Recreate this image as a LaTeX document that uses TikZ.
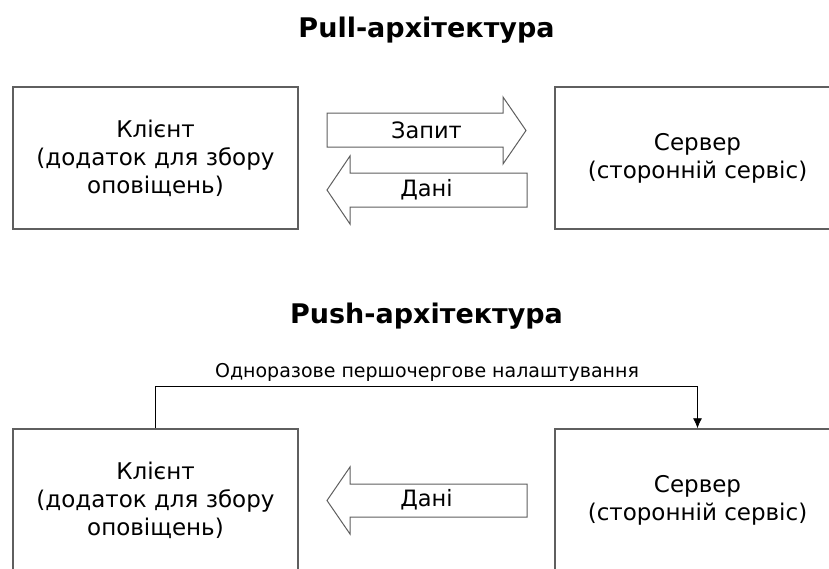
\documentclass[tikz,border=0pt]{standalone}
\usepackage{fontspec}
\setmainfont{DejaVu Sans}
\usetikzlibrary{arrows.meta, positioning}
\definecolor{rahmen}{RGB}{95,95,95}
\tikzset{>=Latex}

\begin{document}
\begin{tikzpicture}[x=1pt, y=-1pt, line width=1pt,
    kasten/.style={draw=rahmen, line width=1.4pt, minimum width=285pt,
      minimum height=142pt, inner sep=0pt, align=center,
      font=\fontsize{23}{28}\selectfont},
    titel/.style={font=\bfseries\fontsize{27}{31}\selectfont},
    pfeil/.style={draw=rahmen, line width=1pt, fill=white},
    beschr/.style={font=\fontsize{22.5}{26}\selectfont}]

    \useasboundingbox (0,0) rectangle (829,568);
    \clip (0,0) rectangle (829,568);

    % Pull oben
    \node[titel] (titelpull) at (426.5,30) {Pull-архітектура};
    \node[kasten] (klient1) at (155.5,158) {Клієнт\\(додаток для збору\\оповіщень)};
    \node[kasten] (server1) at (697.5,158) {Сервер\\(сторонній сервіс)};

    % Blockpfeile zwischen den Kästen
    \draw[pfeil] (327,113) -- (503,113) -- (503,97) -- (526,130.5)
        -- (503,164) -- (503,147) -- (327,147) -- cycle;
    \node[beschr] (zapit) at (426.5,130) {Запит};
    \draw[pfeil] (527,173) -- (350,173) -- (350,156) -- (327,190)
        -- (350,224) -- (350,207) -- (527,207) -- cycle;
    \node[beschr] (dani1) at (426.5,190) {Дані};

    % Push unten
    \node[titel] (titelpush) at (426.5,316) {Push-архітектура};
    \node[kasten] (klient2) at (155.5,500) {Клієнт\\(додаток для збору\\оповіщень)};
    \node[kasten] (server2) at (697.5,500) {Сервер\\(сторонній сервіс)};

    \draw[pfeil] (527,484) -- (350,484) -- (350,467) -- (327,500.5)
        -- (350,534) -- (350,517) -- (527,517) -- cycle;
    \node[beschr] (dani2) at (426.5,500) {Дані};

    % einmalige Einrichtung
    \node[font=\fontsize{19}{22}\selectfont] (einrichtung) at (427,372) {Одноразове першочергове налаштування};
    \draw[->, line width=0.8pt, >={Latex[length=10pt, width=9pt]}]
        (klient2.north) -- ++(0,-42) -| (server2.north);

\end{tikzpicture}
\end{document}
